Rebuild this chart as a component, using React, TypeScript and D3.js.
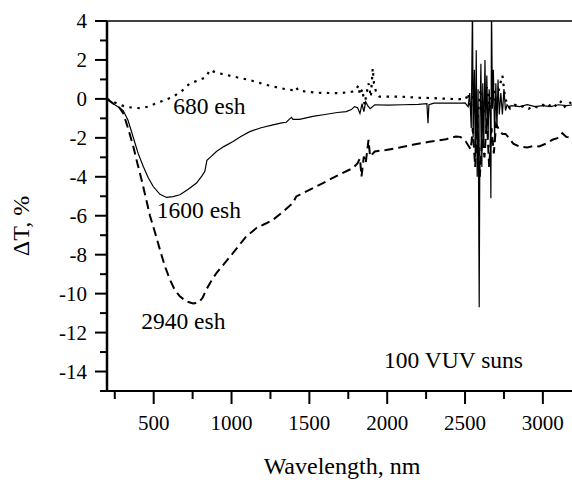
import React from "react";
import * as d3 from "d3";

// Wavelength (nm), ΔT (%)
const solid1600: [number, number][] = [
  [200, 0], [219, -0.14], [250, -0.3], [280, -0.45], [304, -0.6], [335, -1.1], [367, -1.93], [400, -2.8],
  [433, -3.47], [465, -4.05], [497, -4.5], [540, -4.9], [583, -5.06], [625, -5.02], [668, -4.92], [720, -4.65],
  [775, -4.32], [810, -3.95], [828, -3.73], [836, -3.4], [842, -3.15], [870, -2.95], [903, -2.7], [950, -2.45],
  [1010, -2.19], [1060, -1.93], [1117, -1.68], [1190, -1.48], [1266, -1.33], [1330, -1.22], [1352, -1.2],
  [1370, -1.05], [1385, -0.95], [1394, -1.05], [1437, -1.05], [1522, -0.9], [1600, -0.8], [1680, -0.7],
  [1737, -0.65], [1770, -0.55], [1790, -0.4], [1810, -0.45], [1825, -0.75], [1838, -0.25], [1850, -0.65],
  [1862, -0.15], [1875, -0.35], [1890, -0.5], [1920, -0.3], [2000, -0.32], [2100, -0.3], [2200, -0.28],
  [2255, -0.25], [2262, -1.25], [2268, -0.3], [2300, -0.22], [2400, -0.22], [2480, -0.22],
  [2500, -0.2], [2520, -0.4], [2530, 0.3], [2540, -1.5], [2548, 5], [2552, -2], [2560, 1.5], [2566, -3],
  [2572, 2.5], [2578, -4], [2584, 0.5], [2591, -10.7], [2596, -1], [2602, 1.8], [2608, -3.5], [2614, 0.8],
  [2620, -2.5], [2628, 2], [2634, -1.5], [2640, 1.2], [2648, -2], [2655, 0.5], [2662, -1], [2666, -5.1],
  [2670, 5], [2676, -0.5], [2682, 1.5], [2690, -2], [2698, 0.8], [2705, -1.5], [2712, 1], [2720, -0.8],
  [2730, 0.3], [2740, -0.8], [2750, 0.5], [2760, -0.6], [2770, -0.3], [2780, -0.4], [2800, -0.35],
  [2850, -0.4], [2900, -0.3], [2950, -0.4], [3000, -0.35], [3050, -0.4], [3100, -0.3], [3150, -0.35], [3200, -0.3],
];

const dotted680: [number, number][] = [
  [200, 0], [240, -0.15], [280, -0.3], [330, -0.42], [411, -0.48], [465, -0.4], [519, -0.22], [575, -0.05],
  [625, 0.12], [680, 0.4], [732, 0.8], [796, 0.97], [839, 1.14], [860, 1.49], [900, 1.35], [967, 1.23],
  [1040, 1.1], [1117, 0.97], [1224, 0.72], [1300, 0.58], [1373, 0.46], [1400, 0.45], [1415, 0.6], [1430, 0.42],
  [1544, 0.32], [1694, 0.29], [1780, 0.38], [1800, 0.46], [1815, 0.7], [1825, 0.2], [1840, 0.5], [1855, -0.3],
  [1870, 0.4], [1880, 0.8], [1895, 0.1], [1907, 1.57], [1915, 0.8], [1930, 0.3], [1950, 0.12], [2078, 0.12],
  [2200, 0.06], [2292, 0.04], [2400, 0.0], [2505, -0.02], [2520, 0.3], [2535, -0.5], [2560, 0.5], [2580, -1],
  [2600, 0.5], [2620, -0.8], [2640, 0.6], [2660, -0.5], [2680, 0.8], [2700, -0.4], [2720, 0.6], [2740, 1.2],
  [2755, 0.2], [2770, -0.3], [2790, -0.5], [2820, -0.3], [2850, -0.45], [2880, -0.35], [2910, -0.5],
  [2940, -0.35], [2970, -0.45], [3000, -0.3], [3030, -0.45], [3060, -0.2], [3090, -0.4], [3120, -0.1],
  [3140, -0.4], [3170, -0.15], [3200, -0.4],
];

const dashed2940: [number, number][] = [
  [200, 0], [250, -0.3], [280, -0.45], [304, -0.73], [335, -1.5], [369, -2.45], [395, -3.3], [422, -4.15],
  [450, -5.1], [476, -6.0], [510, -6.9], [540, -7.74], [570, -8.55], [604, -9.28], [635, -9.8], [668, -10.14],
  [710, -10.4], [753, -10.51], [790, -10.45], [815, -10.2], [838, -9.79], [870, -9.35], [903, -8.94],
  [960, -8.4], [1010, -7.91], [1050, -7.5], [1095, -7.06], [1160, -6.63], [1220, -6.4], [1266, -6.21],
  [1330, -5.8], [1394, -5.35], [1416, -5.01], [1520, -4.6], [1629, -4.15], [1700, -3.85], [1779, -3.56],
  [1810, -3.3], [1825, -3.05], [1835, -3.98], [1850, -2.96], [1862, -3.3], [1880, -2.1], [1890, -2.96],
  [1920, -2.7], [1993, -2.62], [2080, -2.5], [2163, -2.36], [2270, -2.2], [2378, -2.07], [2441, -1.93],
  [2470, -1.95], [2505, -2.19], [2537, -2.6], [2550, -1.5], [2565, -3.5], [2580, -1.2], [2595, -4],
  [2610, -2], [2625, -3], [2640, -1], [2655, -3.5], [2670, -1.5], [2685, -2.8], [2700, -1.3], [2720, -1.6],
  [2740, -1.8], [2760, -1.8], [2783, -2.02], [2810, -2.3], [2847, -2.44], [2900, -2.5], [2940, -2.42],
  [2976, -2.44], [3020, -2.3], [3061, -2.1], [3100, -2.0], [3125, -1.76], [3150, -1.95], [3200, -2.0],
];

const xMajorTicks = [500, 1000, 1500, 2000, 2500, 3000];
const xMinorTicks = [250, 750, 1250, 1750, 2250, 2750];
const yMajorTicks = [4, 2, 0, -2, -4, -6, -8, -10, -12, -14];
const yMinorTicks = [3, 1, -1, -3, -5, -7, -9, -11, -13, -15];

const annotations = [
  { text: "680 esh", wl: 625, v: -0.8 },
  { text: "1600 esh", wl: 520, v: -6.1 },
  { text: "2940 esh", wl: 420, v: -11.8 },
  { text: "100 VUV suns", wl: 1980, v: -13.8 },
];

const W = 572, H = 480;
const left = 107, right = 574, top = 21, bottom = 391;
const FONT = "Liberation Serif, DejaVu Serif, Times New Roman, serif";

export default function App() {
  const x = d3.scaleLinear().domain([200, 3200]).range([left, right]);
  const y = d3.scaleLinear().domain([-15, 4]).range([bottom, top]);
  const line = d3.line<[number, number]>().x((d) => x(d[0])).y((d) => y(d[1]));
  const txt = (size: number) => ({ fontFamily: FONT, fontSize: size });

  return (
    <svg width={W} height={H} style={{ position: "absolute", left: 0, top: 0, background: "#fff" }}>
      <defs>
        <clipPath id="plot">
          <rect x={left} y={top} width={right - left} height={bottom - top} />
        </clipPath>
      </defs>
      <g clipPath="url(#plot)" fill="none" stroke="#000">
        <path d={line(dotted680) || ""} strokeWidth={2.2} strokeDasharray="2.5,5.5" />
        <path d={line(dashed2940) || ""} strokeWidth={2} strokeDasharray="9,5" />
        <path d={line(solid1600) || ""} strokeWidth={1.2} />
      </g>
      <line x1={left} x2={W} y1={top} y2={top} stroke="#000" strokeWidth={1.5} />
      <line x1={left} x2={left} y1={top} y2={bottom} stroke="#000" strokeWidth={2.5} />
      <line x1={left - 6} x2={W} y1={bottom} y2={bottom} stroke="#000" strokeWidth={2} />
      {yMajorTicks.map((t) => (
        <g key={"ym" + t}>
          <line x1={left - 12} x2={left} y1={y(t)} y2={y(t)} stroke="#000" strokeWidth={2} />
          <text x={left - 20} y={y(t)} dy="0.35em" textAnchor="end" style={txt(21)}>
            {t}
          </text>
        </g>
      ))}
      {yMinorTicks.map((t) => (
        <line key={"yn" + t} x1={left - 7} x2={left} y1={y(t)} y2={y(t)} stroke="#000" strokeWidth={2} />
      ))}
      {xMajorTicks.map((t) => (
        <g key={"xm" + t}>
          <line x1={x(t)} x2={x(t)} y1={bottom} y2={bottom + 13} stroke="#000" strokeWidth={2} />
          <text x={x(t)} y={bottom + 39} textAnchor="middle" style={txt(21)}>
            {t}
          </text>
        </g>
      ))}
      {xMinorTicks.map((t) => (
        <line key={"xn" + t} x1={x(t)} x2={x(t)} y1={bottom} y2={bottom + 8} stroke="#000" strokeWidth={2} />
      ))}
      {annotations.map((a) => (
        <text key={a.text} x={x(a.wl)} y={y(a.v)} style={txt(23.5)}>
          {a.text}
        </text>
      ))}
      <text x={342} y={474} textAnchor="middle" style={txt(24)}>
        Wavelength, nm
      </text>
      <text
        transform={`translate(29, ${(top + bottom) / 2 + 20}) rotate(-90)`}
        textAnchor="middle"
        style={txt(24)}
      >
        ΔT, %
      </text>
    </svg>
  );
}
